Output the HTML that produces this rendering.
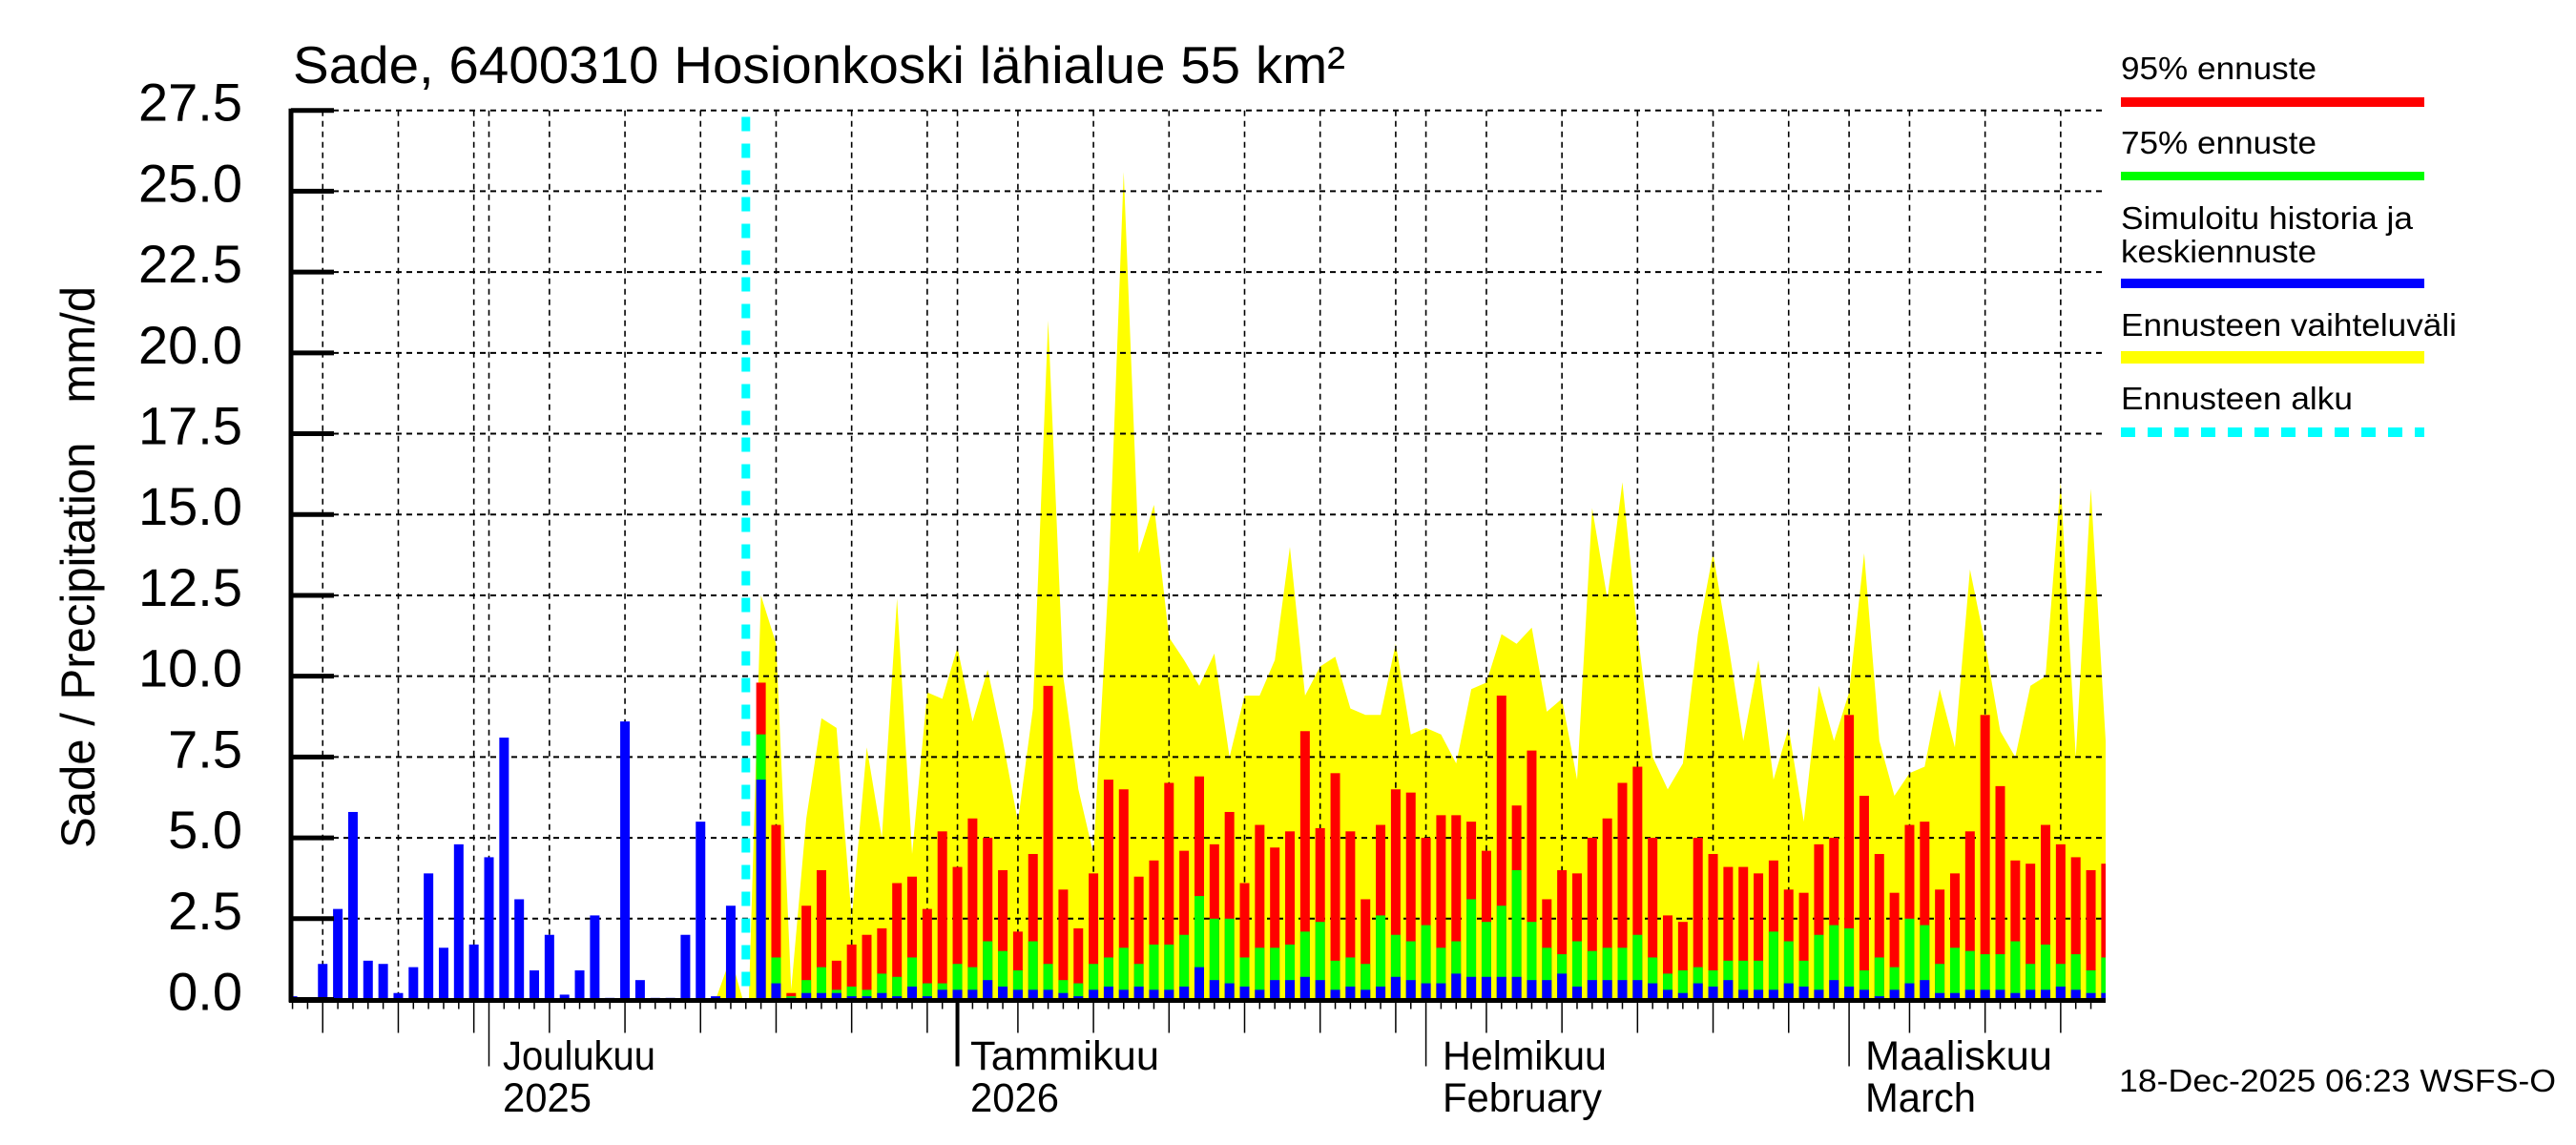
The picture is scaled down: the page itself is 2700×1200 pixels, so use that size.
<!DOCTYPE html>
<html><head><meta charset="utf-8"><style>
html,body{margin:0;padding:0;background:#fff;}
svg{display:block;font-family:"Liberation Sans",Arial,sans-serif;}
</style></head><body>
<svg id="s" width="2700" height="1200" xmlns="http://www.w3.org/2000/svg">
<rect width="2700" height="1200" fill="#fff"/>
<g id="yel"></g>
<g id="grid"></g>
<g id="bars"></g>
<g id="axes"></g>
<text x="307" y="87" font-size="55" textLength="1103" lengthAdjust="spacingAndGlyphs">Sade, 6400310 Hosionkoski lähialue 55 km²</text>
<text transform="translate(99,889) rotate(-90)" font-size="50" textLength="589" lengthAdjust="spacingAndGlyphs" xml:space="preserve">Sade / Precipitation&#160;&#160;&#160;mm/d</text>
<g font-size="33">
<text x="2223" y="83" textLength="205" lengthAdjust="spacingAndGlyphs">95% ennuste</text>
<rect x="2223" y="102" width="318" height="10" fill="#f00"/>
<text x="2223" y="161" textLength="205" lengthAdjust="spacingAndGlyphs">75% ennuste</text>
<rect x="2223" y="180" width="318" height="9" fill="#0f0"/>
<text x="2223" y="240" textLength="306" lengthAdjust="spacingAndGlyphs">Simuloitu historia ja</text>
<text x="2223" y="275" textLength="205" lengthAdjust="spacingAndGlyphs">keskiennuste</text>
<rect x="2223" y="292" width="318" height="10" fill="#00f"/>
<text x="2223" y="352" textLength="352" lengthAdjust="spacingAndGlyphs">Ennusteen vaihteluväli</text>
<rect x="2223" y="368" width="318" height="13" fill="#ff0"/>
<text x="2223" y="429" textLength="243" lengthAdjust="spacingAndGlyphs">Ennusteen alku</text>
<line x1="2223" y1="453" x2="2541" y2="453" stroke="#0ff" stroke-width="10" stroke-dasharray="15 13"/>
<text x="2221" y="1144" textLength="458" lengthAdjust="spacingAndGlyphs">18-Dec-2025 06:23 WSFS-O</text>
</g>
<g font-size="43">
<text x="527" y="1121" textLength="160" lengthAdjust="spacingAndGlyphs">Joulukuu</text>
<text x="527" y="1165" textLength="93" lengthAdjust="spacingAndGlyphs">2025</text>
<text x="1017" y="1121" textLength="198" lengthAdjust="spacingAndGlyphs">Tammikuu</text>
<text x="1017" y="1165" textLength="93" lengthAdjust="spacingAndGlyphs">2026</text>
<text x="1512" y="1121" textLength="172" lengthAdjust="spacingAndGlyphs">Helmikuu</text>
<text x="1512" y="1165" textLength="167" lengthAdjust="spacingAndGlyphs">February</text>
<text x="1955" y="1121" textLength="196" lengthAdjust="spacingAndGlyphs">Maaliskuu</text>
<text x="1955" y="1165" textLength="116" lengthAdjust="spacingAndGlyphs">March</text>
</g>
</svg>
<script>
var NS="http://www.w3.org/2000/svg";
function el(p,t,a){var e=document.createElementNS(NS,t);for(var k in a)e.setAttribute(k,a[k]);document.getElementById(p).appendChild(e);return e;}
var L=305,R=2207,T=115.7,B=1047.5,U=(B-T)/27.5;
function X(d){return 512.5+(d-13)*15.84;}
function Y(v){return B-v*U;}
var F=[[9.8,8.2,6.8,12.5],[5.4,1.3,0.5,11],[0.2,0.1,0.05,0.3],[2.9,0.6,0.2,5.6],[4.0,1.0,0.2,8.7],[1.2,0.3,0.2,8.4],[1.7,0.4,0.1,2.5],[2.0,0.3,0.1,7.8],[2.2,0.8,0.2,5],[3.6,0.7,0.1,12.4],[3.8,1.3,0.4,4.5],[2.8,0.5,0.1,9.5],[5.2,0.5,0.3,9.3],[4.1,1.1,0.3,10.9],[5.6,1.0,0.3,8.6],[5.0,1.8,0.6,10.2],[4.0,1.5,0.4,8],[2.1,0.9,0.3,5.5],[4.5,1.8,0.3,9],[9.7,1.1,0.3,21],[3.4,0.6,0.2,10],[2.2,0.5,0.1,6.5],[3.9,1.1,0.3,4.5],[6.8,1.3,0.4,13],[6.5,1.6,0.3,25.6],[3.8,1.1,0.4,13.8],[4.3,1.7,0.3,15.3],[6.7,1.7,0.3,11.2],[4.6,2.0,0.4,10.5],[6.9,3.2,1.0,9.7],[4.8,2.5,0.6,10.7],[5.8,2.5,0.5,7.5],[3.6,1.3,0.4,9.4],[5.4,1.6,0.3,9.4],[4.7,1.6,0.6,10.5],[5.2,1.7,0.6,14],[8.3,2.1,0.7,9.4],[5.3,2.4,0.6,10.3],[7.0,1.2,0.3,10.6],[5.2,1.3,0.4,9],[3.1,1.1,0.3,8.8],[5.4,2.6,0.4,8.8],[6.5,2.0,0.7,11],[6.4,1.8,0.6,8.2],[5.0,2.3,0.5,8.4],[5.7,1.6,0.5,8.2],[5.7,1.8,0.8,7.3],[5.5,3.1,0.7,9.6],[4.6,2.4,0.7,9.8],[9.4,2.9,0.7,11.3],[6.0,4.0,0.7,11],[7.7,2.4,0.6,11.5],[3.1,1.6,0.6,8.9],[4.0,1.4,0.8,9.3],[3.9,1.8,0.4,6.8],[5.0,1.5,0.6,15.2],[5.6,1.6,0.6,12.4],[6.7,1.6,0.6,16],[7.2,2.0,0.6,11.4],[5.0,1.3,0.5,7.5],[2.6,0.8,0.3,6.5],[2.4,0.9,0.2,7.3],[5.0,1.0,0.5,11.3],[4.5,0.9,0.4,13.8],[4.1,1.2,0.6,11],[4.1,1.2,0.3,8],[3.9,1.2,0.3,10.5],[4.3,2.1,0.3,6.8],[3.4,1.8,0.5,8.4],[3.3,1.2,0.4,5.5],[4.8,2.0,0.3,9.7],[5.0,2.3,0.6,8],[8.8,2.2,0.4,9.5],[6.3,0.9,0.3,13.8],[4.5,1.3,0.1,8],[3.3,1.0,0.3,6.3],[5.4,2.5,0.5,7],[5.5,2.3,0.6,7.2],[3.4,1.1,0.2,9.6],[3.9,1.6,0.2,7.8],[5.2,1.5,0.3,13.3],[8.8,1.4,0.3,11],[6.6,1.4,0.3,8.3],[4.3,1.8,0.2,7.5],[4.2,1.1,0.3,9.7],[5.4,1.7,0.3,10],[4.8,1.1,0.4,16],[4.4,1.4,0.3,7.5],[4.0,0.9,0.2,15.8],[4.2,1.3,0.2,8]];
var pts=[[X(28),B],[X(29),Y(1.3)],[X(29.8),B],[X(30.2),B]];
for(var i=0;i<F.length;i++){var x=X(31+i);if(x>R)x=R;pts.push([x,Y(F[i][3])]);}
pts.push([R,Y(8)]);pts.push([R,B]);
el("yel","polygon",{points:pts.map(function(p){return p[0].toFixed(1)+","+p[1].toFixed(1)}).join(" "),fill:"#ff0"});
for(var v=0;v<=27.5;v+=2.5){el("grid","line",{x1:L,x2:R,y1:Y(v),y2:Y(v),stroke:"#000","stroke-width":2,"stroke-dasharray":"6 5"});}
var gd=[2,7,12,13,17,22,27,32,37,42,44,48,53,58,63,68,73,75,79,84,89,94,99,103,107,112,117];
gd.forEach(function(d){var x=X(d);el("grid","line",{x1:x,x2:x,y1:T,y2:B,stroke:"#000","stroke-width":1.6,"stroke-dasharray":"6 5"});});
var H=[0.1,0,1.1,2.8,5.8,1.2,1.1,0.2,1.0,3.9,1.6,4.8,1.7,4.4,8.1,3.1,0.9,2.0,0.15,0.9,2.6,0.05,8.6,0.6,0.05,0.05,2.0,5.5,0.1,2.9];
function bar(d,v,c){if(v<=0)return;var x=X(d)-5,w=10;if(x<L){w-=L-x;x=L;}if(x+w>R)w=R-x;if(w<=0)return;el("bars","rect",{x:x,y:Y(v),width:w,height:v*U,fill:c});}
H.forEach(function(v,d){bar(d,v,"#00f");});
F.forEach(function(f,i){var d=31+i;bar(d,f[0],"#f00");bar(d,f[1],"#0f0");bar(d,f[2],"#00f");});
el("bars","line",{x1:X(30),x2:X(30),y1:Y(27.3),y2:B,stroke:"#0ff","stroke-width":9,"stroke-dasharray":"15 13"});
el("axes","line",{x1:L,x2:L,y1:T-2,y2:B+3,stroke:"#000","stroke-width":5});
el("axes","line",{x1:L-2,x2:R,y1:B+1,y2:B+1,stroke:"#000","stroke-width":5});
for(var v=0;v<=27.5;v+=2.5){var y=Y(v);el("axes","line",{x1:L,x2:350,y1:y,y2:y,stroke:"#000","stroke-width":5});
var t=el("axes","text",{x:254,y:y+11,"font-size":56,"text-anchor":"end"});t.textContent=v.toFixed(1);}
for(var d=0;d<=120;d++){var x=X(d);if(x<L||x>R)continue;var len=9,w=1.5;
if(gd.indexOf(d)>=0)len=34;if([13,44,75,103].indexOf(d)>=0)len=69;if(d==44)w=4;
el("axes","line",{x1:x,x2:x,y1:B+3,y2:B+1+len,stroke:"#000","stroke-width":w});}
</script>
</body></html>
